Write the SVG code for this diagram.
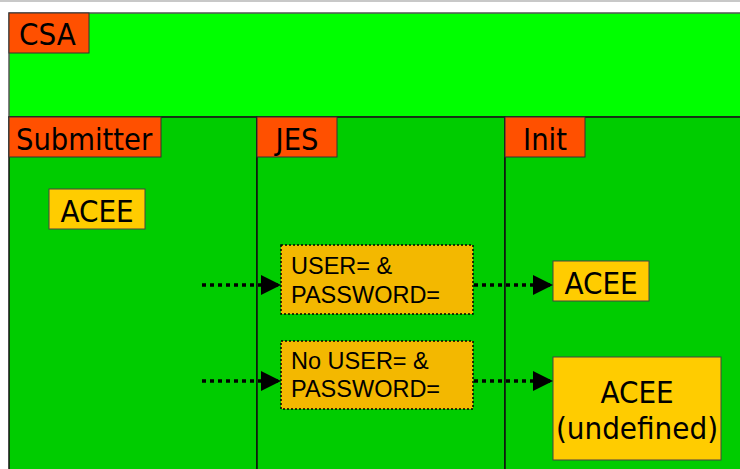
<svg xmlns="http://www.w3.org/2000/svg" width="740" height="469" viewBox="0 0 740 469">
  <defs>
    <marker id="arr" markerUnits="userSpaceOnUse" markerWidth="21" markerHeight="20" refX="20" refY="10" orient="auto">
      <polygon points="0,0 20,10 0,20" fill="#000"/>
    </marker>
    <style>
      .t { font-family: "DejaVu Sans Condensed", "DejaVu Sans", sans-serif; font-stretch: condensed; fill: #000; }
      .a { font-family: "Liberation Sans", Arial, sans-serif; font-size: 23.5px; fill: #000; }
      .lbl { fill: #FF5000; stroke: #333; stroke-width: 1; }
      .lane { fill: #00CC00; stroke: #111; stroke-width: 1.5; }
      .acee { fill: #FFCC00; stroke: #444; stroke-width: 1; }
      .jbox { fill: #F3B800; stroke: #000; stroke-width: 1.5; stroke-dasharray: 2 2; }
      .conn { stroke: #000; stroke-width: 3.5; stroke-dasharray: 4 4; fill: none; marker-end: url(#arr); }
    </style>
  </defs>
  <rect x="0" y="0" width="740" height="469" fill="#fff"/>
  <line x1="0" y1="1" x2="740" y2="1" stroke="#c8c8c8" stroke-width="2"/>

  <g id="csa">
    <rect x="9" y="13" width="740" height="104" fill="#00FF00" stroke="#555" stroke-width="1.5"/>
    <rect class="lbl" x="9" y="13" width="80" height="40"/>
    <text class="t" x="19" y="45" font-size="31">CSA</text>
  </g>

  <g id="submitter">
    <rect class="lane" x="9" y="117" width="248" height="360"/>
    <rect class="lbl" x="9" y="117" width="152" height="40"/>
    <text class="t" x="16" y="150" font-size="30.5">Submitter</text>
  </g>

  <g id="jes">
    <rect class="lane" x="257" y="117" width="248" height="360"/>
    <rect class="lbl" x="257" y="117" width="80" height="40"/>
    <text class="t" x="297" y="150" font-size="30.5" text-anchor="middle">JES</text>
  </g>

  <g id="init">
    <rect class="lane" x="505" y="117" width="250" height="360"/>
    <rect class="lbl" x="505" y="117" width="80" height="40"/>
    <text class="t" x="545" y="150" font-size="30.5" text-anchor="middle">Init</text>
  </g>

  <g id="acee-submitter">
    <rect class="acee" x="49" y="189" width="96" height="40"/>
    <text class="t" x="97" y="222" font-size="31" text-anchor="middle">ACEE</text>
  </g>

  <g id="jes-user">
    <rect class="jbox" x="281" y="245" width="192" height="69"/>
    <text class="a" x="291" y="274">USER= &amp;</text>
    <text class="a" x="291" y="303">PASSWORD=</text>
  </g>

  <g id="jes-nouser">
    <rect class="jbox" x="281" y="341" width="192" height="68"/>
    <text class="a" x="291" y="369">No USER= &amp;</text>
    <text class="a" x="291" y="397">PASSWORD=</text>
  </g>

  <g id="acee-init">
    <rect class="acee" x="553" y="261" width="96" height="40"/>
    <text class="t" x="601" y="294" font-size="31" text-anchor="middle">ACEE</text>
  </g>

  <g id="acee-undefined">
    <rect class="acee" x="553" y="357" width="168" height="103"/>
    <text class="t" x="637" y="403" font-size="31" text-anchor="middle">ACEE</text>
    <text class="t" x="637" y="439" font-size="31" text-anchor="middle">(undefined)</text>
  </g>

  <g id="connectors">
    <line class="conn" x1="202" y1="285" x2="281" y2="285"/>
    <line class="conn" x1="202" y1="381" x2="281" y2="381"/>
    <line class="conn" x1="474" y1="285" x2="553" y2="285"/>
    <line class="conn" x1="474" y1="381" x2="553" y2="381"/>
  </g>
</svg>
